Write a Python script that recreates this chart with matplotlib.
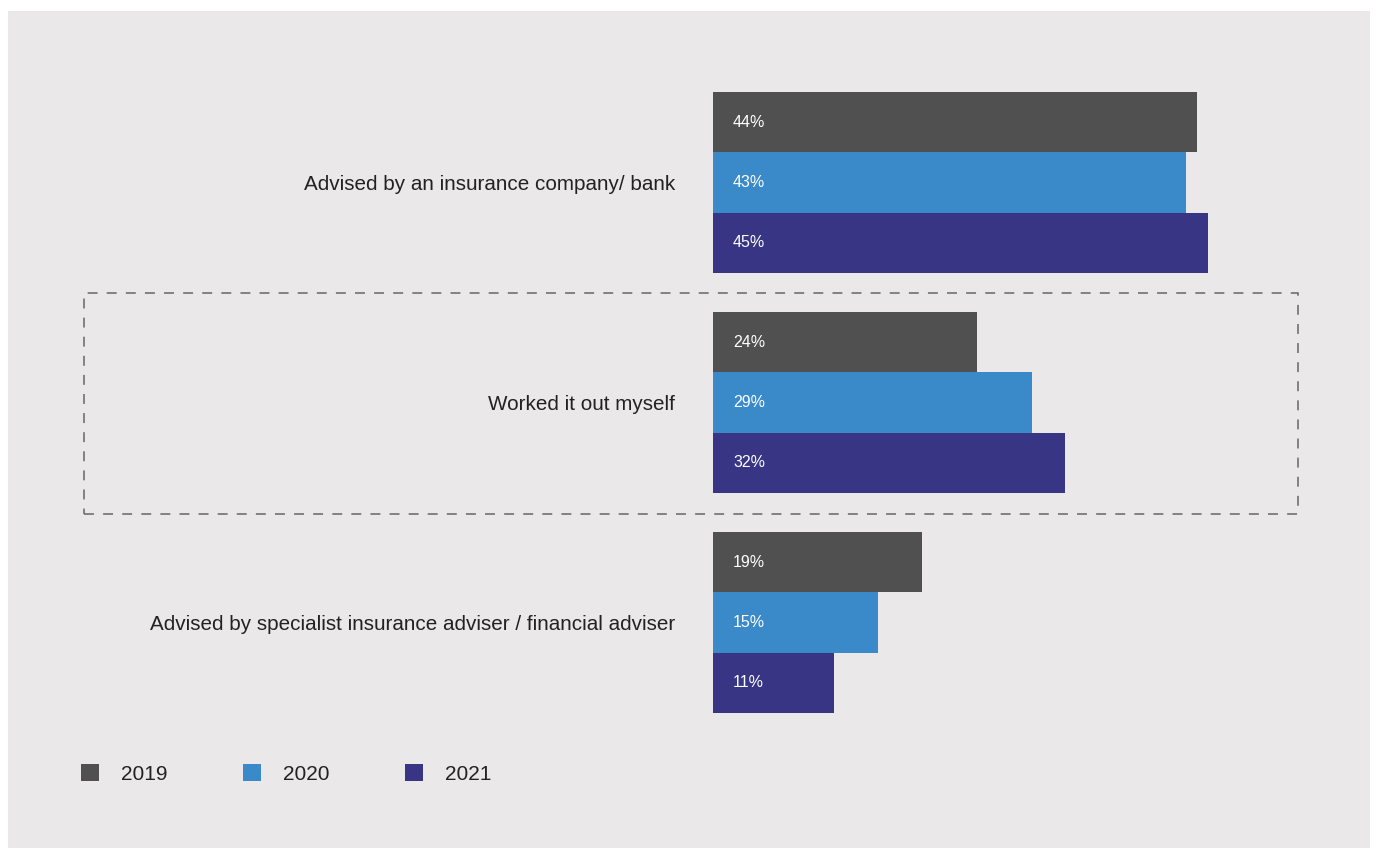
import matplotlib.pyplot as plt
from matplotlib.patches import Rectangle, Patch
import numpy as np

# survey answers, one group per answer, one bar per year
categories = [
    'Advised by an insurance company/ bank',
    'Worked it out myself',
    'Advised by specialist insurance adviser / financial adviser',
]
years = ['2019', '2020', '2021']
values_2019 = [44, 24, 19]
values_2020 = [43, 29, 15]
values_2021 = [45, 32, 11]
series = [values_2019, values_2020, values_2021]
colors = ['#505050', '#3a89c9', '#383584']

W, H = 1377, 848
plt.rcParams['font.family'] = ['Liberation Sans', 'DejaVu Sans']

fig = plt.figure(figsize=(W / 100, H / 100), dpi=100)
fig.patch.set_facecolor('white')

# grey panel behind everything
fig.patches.append(Rectangle((8 / W, 0), (1370 - 8) / W, (H - 11) / H,
                             transform=fig.transFigure, facecolor='#eae8e9',
                             edgecolor='none', zorder=-2))

# axes: x=0 at the bars' left edge, 11 px per percent; y in group units (220 px per group)
left_px = 713
ax = fig.add_axes([left_px / W, 0, (W - left_px) / W, 1])
ax.set_zorder(2)
ax.set_xlim(0, (W - left_px) / 11)
group_px, first_px = 220, 182.5
ax.set_ylim((H - first_px) / group_px, -first_px / group_px)
ax.axis('off')
ax.patch.set_alpha(0)

bar_h = 60.4 / group_px
y = np.arange(len(categories))
for i, (vals, col) in enumerate(zip(series, colors)):
    pos = y + (i - 1) * bar_h
    ax.barh(pos, vals, height=bar_h, color=col, edgecolor='none')
    for p, v in zip(pos, vals):
        ax.text(20 / 11, p, f'{v}%', color='white', fontsize=11.5,
                va='center', ha='left')

# category labels to the left of the bars
for yi, cat in zip(y, categories):
    ax.text(-38 / 11, yi + 1.5 / group_px, cat, ha='right', va='center',
            fontsize=14.9, color='#222222', clip_on=False)

# dashed frame around the middle group
fig.patches.append(Rectangle((84 / W, 1 - 514 / H), (1298 - 84) / W, (514 - 293) / H,
                             transform=fig.transFigure, facecolor='none',
                             edgecolor='#666666', linewidth=1.1,
                             linestyle=(0, (6.5, 6)), zorder=-1))

handles = [Patch(facecolor=c, edgecolor='none', label=yr) for c, yr in zip(colors, years)]
fig.legend(handles=handles, loc='center left', bbox_to_anchor=(81 / W, 74 / H),
           ncol=3, frameon=False, fontsize=15, handlelength=0.87, handleheight=0.87,
           handletextpad=1.05, columnspacing=3.62, borderpad=0, borderaxespad=0,
           labelcolor='#222222')

fig.savefig('out.png', dpi=100)
